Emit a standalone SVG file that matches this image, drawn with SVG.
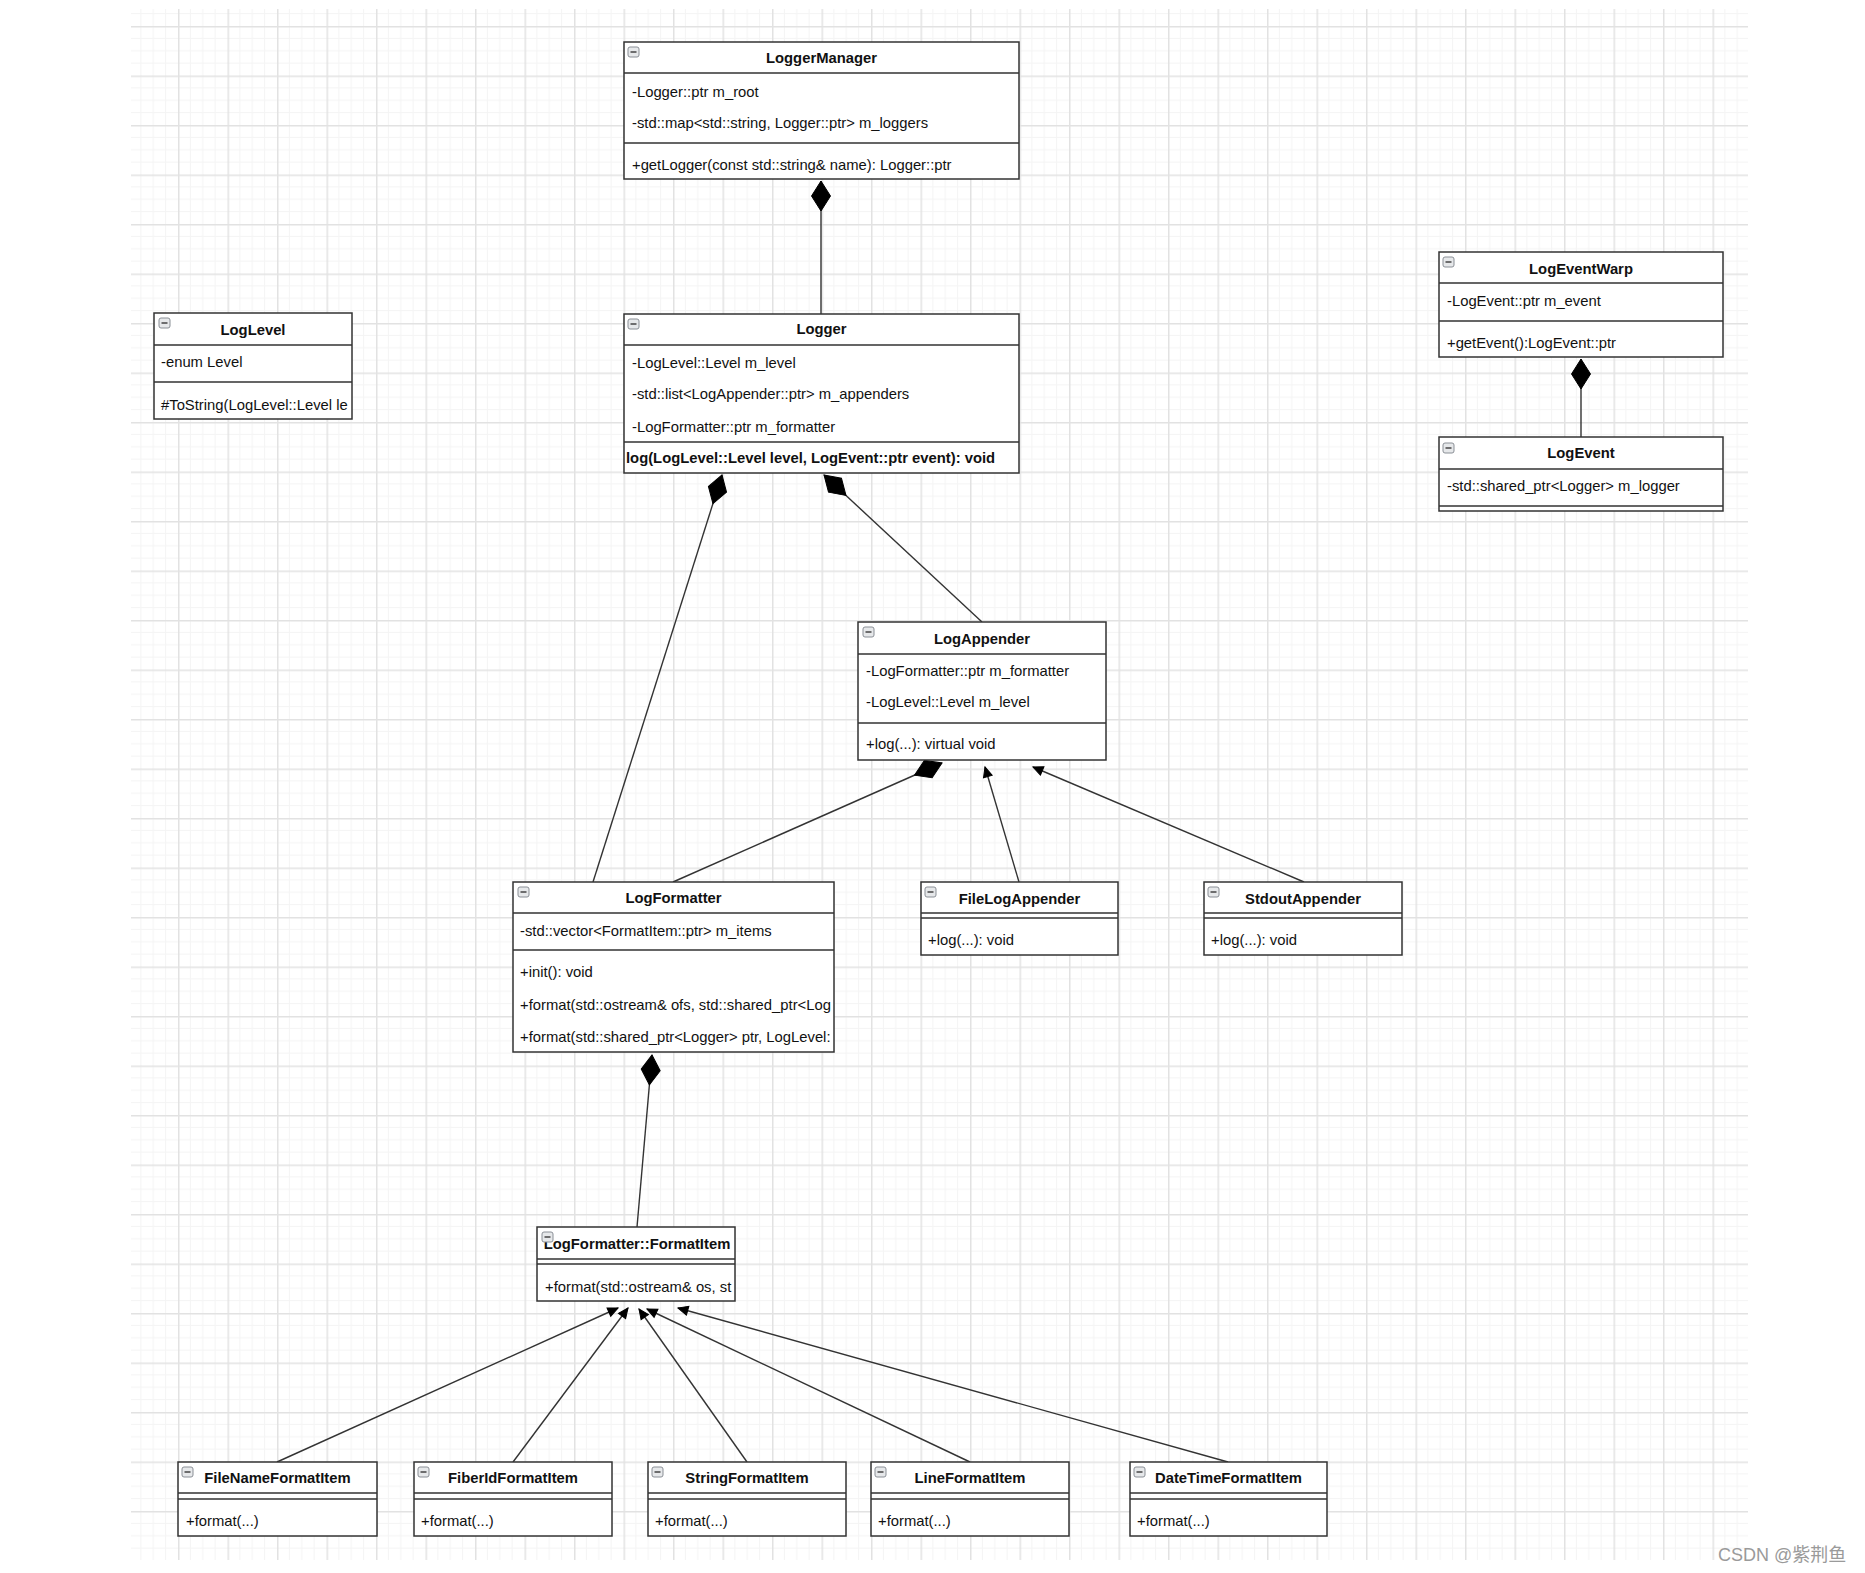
<svg xmlns="http://www.w3.org/2000/svg" xmlns:xlink="http://www.w3.org/1999/xlink" width="1865" height="1573" viewBox="0 0 1865 1573">
<style>
.box{fill:#fff;stroke:#333;stroke-width:1.5}
.sep{stroke:#333;stroke-width:1.5;fill:none}
.t{font-family:"Liberation Sans",Arial,sans-serif;font-size:14.8px;fill:#111}
.b{font-weight:bold}
.c{text-anchor:middle}
.con{stroke:#333;stroke-width:1.4;fill:none}
.wm{font-family:"Liberation Sans",Arial,"Noto Sans CJK SC",sans-serif;font-size:18px;fill:#9a9a9a}
</style>
<defs>
<pattern id="grid" patternUnits="userSpaceOnUse" x="29.5" y="26" width="49.5" height="49.5">
<path d="M12.375 0V49.5M24.75 0V49.5M37.125 0V49.5M0 12.375H49.5M0 24.75H49.5M0 37.125H49.5" stroke="#f4f4f4" stroke-width="1"/>
<path d="M0.75 0V49.5M0 0.75H49.5" stroke="#e2e2e2" stroke-width="1.5"/>
</pattern>
<g id="icon">
<rect x="0" y="0" width="11" height="10" rx="2" fill="#e6e8ea" stroke="#8a8f96" stroke-width="1"/>
<line x1="2.5" y1="5" x2="8.5" y2="5" stroke="#444" stroke-width="1.5"/>
</g>
<marker id="dia" markerUnits="userSpaceOnUse" orient="auto" refX="0" refY="0" markerWidth="32" markerHeight="22" viewBox="-1 -11 32 22" overflow="visible">
<path d="M0 0L15 -9.5L30 0L15 9.5Z" fill="#000" stroke="#000" stroke-width="1"/>
</marker>
<marker id="arr" markerUnits="userSpaceOnUse" orient="auto" refX="0" refY="0" markerWidth="12" markerHeight="12" viewBox="-11 -6 12 12" overflow="visible">
<path d="M-10 -4.5L0 0L-10 4.5Z" fill="#000" stroke="#000" stroke-width="1"/>
</marker>
<clipPath id="clipLevel"><rect x="154" y="313" width="197" height="106"/></clipPath>
<clipPath id="clipFmt"><rect x="513" y="882" width="320" height="170"/></clipPath>
<clipPath id="clipItem"><rect x="537" y="1227" width="197" height="74"/></clipPath>
</defs>

<rect x="0" y="0" width="1865" height="1573" fill="#fff"/>
<rect x="131" y="9" width="1617" height="1551" fill="url(#grid)"/>

<g id="connectors">
<path class="con" d="M821 181L821 314" marker-start="url(#dia)"/>
<path class="con" d="M722 475L593 882" marker-start="url(#dia)"/>
<path class="con" d="M824 475L982 622" marker-start="url(#dia)"/>
<path class="con" d="M942 763L673 882" marker-start="url(#dia)"/>
<path class="con" d="M652 1055L637 1227" marker-start="url(#dia)"/>
<path class="con" d="M1581 359L1581 437" marker-start="url(#dia)"/>
<path class="con" d="M1019 882L985 767" marker-end="url(#arr)"/>
<path class="con" d="M1304 882L1033 767" marker-end="url(#arr)"/>
<path class="con" d="M277 1462L618 1308" marker-end="url(#arr)"/>
<path class="con" d="M513 1462L628 1308" marker-end="url(#arr)"/>
<path class="con" d="M747 1462L639 1309" marker-end="url(#arr)"/>
<path class="con" d="M970 1462L647 1309" marker-end="url(#arr)"/>
<path class="con" d="M1228 1462L678 1308" marker-end="url(#arr)"/>
</g>

<g id="LoggerManager">
<rect class="box" x="624" y="42" width="395" height="137"/>
<path class="sep" d="M624 73H1019M624 143H1019"/>
<use xlink:href="#icon" x="628" y="47"/>
<text class="t b c" x="821.5" y="63">LoggerManager</text>
<text class="t" x="632" y="97">-Logger::ptr m_root</text>
<text class="t" x="632" y="128">-std::map&lt;std::string, Logger::ptr&gt; m_loggers</text>
<text class="t" x="632" y="170">+getLogger(const std::string&amp; name): Logger::ptr</text>
</g>

<g id="Logger">
<rect class="box" x="624" y="314" width="395" height="159"/>
<path class="sep" d="M624 345H1019M624 442H1019"/>
<use xlink:href="#icon" x="628" y="319"/>
<text class="t b c" x="821.5" y="334">Logger</text>
<text class="t" x="632" y="368">-LogLevel::Level m_level</text>
<text class="t" x="632" y="399">-std::list&lt;LogAppender::ptr&gt; m_appenders</text>
<text class="t" x="632" y="432">-LogFormatter::ptr m_formatter</text>
<text class="t b" x="626" y="463">log(LogLevel::Level level, LogEvent::ptr event): void</text>
</g>

<g id="LogLevel">
<rect class="box" x="154" y="313" width="198" height="106"/>
<path class="sep" d="M154 345H352M154 382H352"/>
<use xlink:href="#icon" x="159" y="318"/>
<text class="t b c" x="253" y="335">LogLevel</text>
<text class="t" x="161" y="367">-enum Level</text>
<text class="t" x="161" y="410" clip-path="url(#clipLevel)">#ToString(LogLevel::Level le</text>
</g>

<g id="LogEventWarp">
<rect class="box" x="1439" y="252" width="284" height="105"/>
<path class="sep" d="M1439 283H1723M1439 321H1723"/>
<use xlink:href="#icon" x="1443" y="257"/>
<text class="t b c" x="1581" y="274">LogEventWarp</text>
<text class="t" x="1447" y="306">-LogEvent::ptr m_event</text>
<text class="t" x="1447" y="348">+getEvent():LogEvent::ptr</text>
</g>

<g id="LogEvent">
<rect class="box" x="1439" y="437" width="284" height="74"/>
<path class="sep" d="M1439 469H1723M1439 506H1723"/>
<use xlink:href="#icon" x="1443" y="443"/>
<text class="t b c" x="1581" y="458">LogEvent</text>
<text class="t" x="1447" y="491">-std::shared_ptr&lt;Logger&gt; m_logger</text>
</g>

<g id="LogAppender">
<rect class="box" x="858" y="622" width="248" height="138"/>
<path class="sep" d="M858 654H1106M858 723H1106"/>
<use xlink:href="#icon" x="863" y="627"/>
<text class="t b c" x="982" y="644">LogAppender</text>
<text class="t" x="866" y="676">-LogFormatter::ptr m_formatter</text>
<text class="t" x="866" y="707">-LogLevel::Level m_level</text>
<text class="t" x="866" y="749">+log(...): virtual void</text>
</g>

<g id="LogFormatter">
<rect class="box" x="513" y="882" width="321" height="170"/>
<path class="sep" d="M513 913H834M513 950H834"/>
<use xlink:href="#icon" x="518" y="887"/>
<text class="t b c" x="673.5" y="903">LogFormatter</text>
<g clip-path="url(#clipFmt)">
<text class="t" x="520" y="936">-std::vector&lt;FormatItem::ptr&gt; m_items</text>
<text class="t" x="520" y="977">+init(): void</text>
<text class="t" x="520" y="1010">+format(std::ostream&amp; ofs, std::shared_ptr&lt;Log</text>
<text class="t" x="520" y="1042">+format(std::shared_ptr&lt;Logger&gt; ptr, LogLevel:</text>
</g>
</g>

<g id="FileLogAppender">
<rect class="box" x="921" y="882" width="197" height="73"/>
<path class="sep" d="M921 913H1118M921 918H1118"/>
<use xlink:href="#icon" x="925" y="887"/>
<text class="t b c" x="1019.5" y="904">FileLogAppender</text>
<text class="t" x="928" y="945">+log(...): void</text>
</g>

<g id="StdoutAppender">
<rect class="box" x="1204" y="882" width="198" height="73"/>
<path class="sep" d="M1204 913H1402M1204 918H1402"/>
<use xlink:href="#icon" x="1208" y="887"/>
<text class="t b c" x="1303" y="904">StdoutAppender</text>
<text class="t" x="1211" y="945">+log(...): void</text>
</g>

<g id="FormatItem">
<rect class="box" x="537" y="1227" width="198" height="74"/>
<path class="sep" d="M537 1259H735M537 1264H735"/>
<g clip-path="url(#clipItem)">
<text class="t b c" x="637" y="1249">LogFormatter::FormatItem</text>
<text class="t" x="545" y="1292">+format(std::ostream&amp; os, st</text>
</g>
<use xlink:href="#icon" x="542" y="1232"/>
</g>

<g id="FileNameFormatItem">
<rect class="box" x="178" y="1462" width="199" height="74"/>
<path class="sep" d="M178 1493H377M178 1499H377"/>
<use xlink:href="#icon" x="182" y="1467"/>
<text class="t b c" x="277.5" y="1483">FileNameFormatItem</text>
<text class="t" x="186" y="1526">+format(...)</text>
</g>

<g id="FiberIdFormatItem">
<rect class="box" x="414" y="1462" width="198" height="74"/>
<path class="sep" d="M414 1493H612M414 1499H612"/>
<use xlink:href="#icon" x="418" y="1467"/>
<text class="t b c" x="513" y="1483">FiberIdFormatItem</text>
<text class="t" x="421" y="1526">+format(...)</text>
</g>

<g id="StringFormatItem">
<rect class="box" x="648" y="1462" width="198" height="74"/>
<path class="sep" d="M648 1493H846M648 1499H846"/>
<use xlink:href="#icon" x="652" y="1467"/>
<text class="t b c" x="747" y="1483">StringFormatItem</text>
<text class="t" x="655" y="1526">+format(...)</text>
</g>

<g id="LineFormatItem">
<rect class="box" x="871" y="1462" width="198" height="74"/>
<path class="sep" d="M871 1493H1069M871 1499H1069"/>
<use xlink:href="#icon" x="875" y="1467"/>
<text class="t b c" x="970" y="1483">LineFormatItem</text>
<text class="t" x="878" y="1526">+format(...)</text>
</g>

<g id="DateTimeFormatItem">
<rect class="box" x="1130" y="1462" width="197" height="74"/>
<path class="sep" d="M1130 1493H1327M1130 1499H1327"/>
<use xlink:href="#icon" x="1134" y="1467"/>
<text class="t b c" x="1228.5" y="1483">DateTimeFormatItem</text>
<text class="t" x="1137" y="1526">+format(...)</text>
</g>

<text class="wm" x="1718" y="1561">CSDN @紫荆鱼</text>
</svg>
